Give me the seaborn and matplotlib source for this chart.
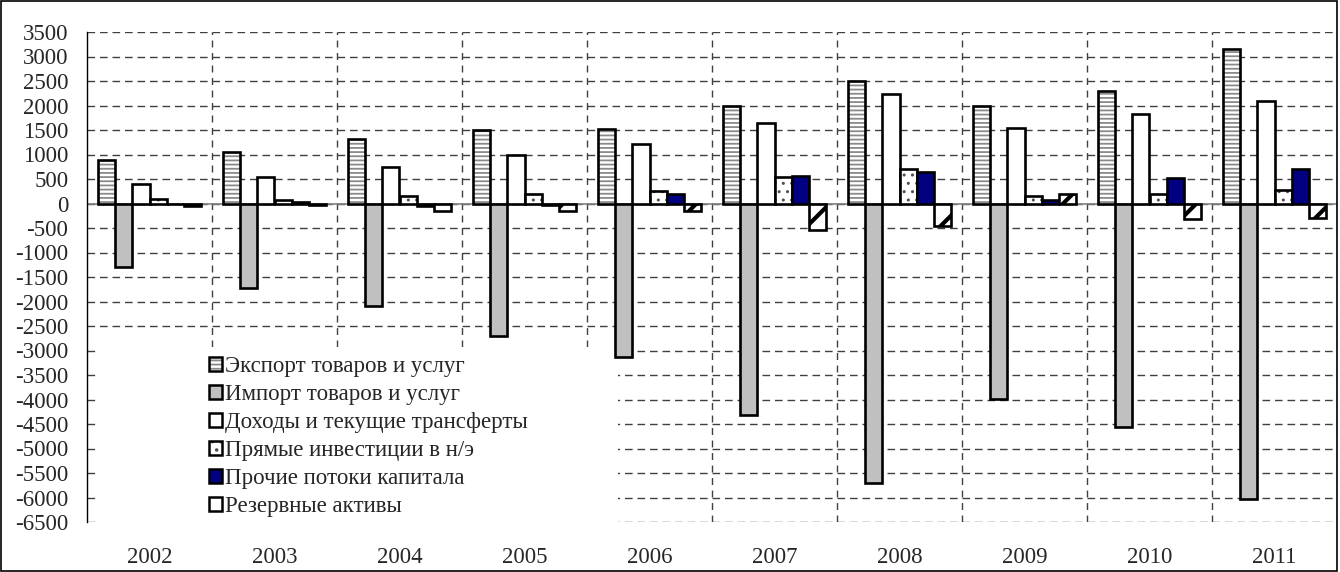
import matplotlib
matplotlib.use("Agg")
import numpy as np
import pandas as pd
import matplotlib.pyplot as plt
import seaborn as sns
from matplotlib.patches import Patch, Rectangle
from matplotlib.colors import to_rgba

years = ['2002', '2003', '2004', '2005', '2006', '2007', '2008', '2009', '2010', '2011']
series = ['Экспорт товаров и услуг', 'Импорт товаров и услуг', 'Доходы и текущие трансферты',
          'Прямые инвестиции в н/э', 'Прочие потоки капитала', 'Резервные активы']

export = [880, 1050, 1325, 1505, 1525, 1995, 2490, 1995, 2290, 3160]
imports = [-1290, -1730, -2100, -2710, -3125, -4320, -5710, -3990, -4570, -6035]
income = [395, 540, 735, 985, 1215, 1645, 2240, 1550, 1830, 2090]
fdi = [88, 68, 160, 190, 255, 540, 710, 150, 190, 275]
other = [-20, 28, -48, -30, 190, 555, 645, 68, 522, 700]
reserves = [-45, -32, -155, -150, -150, -543, -460, 200, -307, -290]

colors = ['white', '#c0c0c0', 'white', 'white', '#000080', 'white']
hatches = ['----', '', '', '..', '', '/']
hatch_colors = ['#8a8a8a', 'black', 'black', '#505050', 'black', 'black']
hatch_widths = [1.3, 1.0, 1.0, 1.0, 1.0, 3.0]

data = pd.DataFrame({
    'year': np.repeat(years, len(series)),
    'series': series * len(years),
    'value': np.column_stack([export, imports, income, fdi, other, reserves]).ravel(),
})

sns.set_style('white')
plt.rcParams['font.family'] = ['Liberation Serif', 'DejaVu Serif']
plt.rcParams['axes.unicode_minus'] = False
plt.rcParams['hatch.linewidth'] = 1.3

fig = plt.figure(figsize=(13.4, 5.72), dpi=100)
ax = fig.add_axes([87 / 1340, 50 / 572, 1250 / 1340, 490 / 572])

sns.barplot(data=data, x='year', y='value', hue='series', hue_order=series,
            palette=dict(zip(series, colors)), saturation=1, width=0.82,
            edgecolor='black', linewidth=1.9, errorbar=None, legend=False, ax=ax)


def style_patch(p, hatch, hcolor, hwidth):
    if hatch:
        p.set_hatch(hatch)
        if hasattr(p, 'set_hatchcolor'):
            p.set_hatchcolor(hcolor)
        else:
            p._hatch_color = to_rgba(hcolor)
        if hasattr(p, 'set_hatch_linewidth'):
            p.set_hatch_linewidth(hwidth)
        else:
            p._hatch_linewidth = hwidth


for cont, h, hc, hw in zip(ax.containers, hatches, hatch_colors, hatch_widths):
    for p in cont.patches:
        style_patch(p, h, hc, hw)
        p.set_zorder(3)

ax.set_ylim(-6500, 3500)
ax.set_xlim(-0.5, len(years) - 0.5)
ax.set_yticks(np.arange(-6500, 3501, 500))
ax.set_xticks(range(len(years)))
ax.set_xticklabels(years)
ax.set_xlabel('')
ax.set_ylabel('')

# grid: dashed horizontal lines at ticks, dashed vertical lines between years
ax.set_axisbelow(True)
ax.yaxis.grid(True, color='#404040', linewidth=1.0, linestyle=(0, (5.5, 3.5)))
for b in np.arange(0.5, len(years), 1.0):
    ax.axvline(b, color='#404040', linewidth=1.0, linestyle=(0, (5, 4)), zorder=0.6)
ax.axhline(0, color='#808080', linewidth=1.2, zorder=2)

for s in ['top', 'right', 'bottom']:
    ax.spines[s].set_visible(False)
ax.spines['left'].set_color('black')
ax.spines['left'].set_linewidth(1.0)
ax.spines['left'].set_zorder(4)

ax.tick_params(axis='y', direction='inout', length=9, width=1.0, color='black',
               labelsize=16.5, pad=9)
ax.tick_params(axis='x', length=0, labelsize=16.5, pad=18)

# white box behind the legend (hides grid there)
ax.add_patch(Rectangle((0.008, 0.0), 0.417, 0.358, transform=ax.transAxes,
                       facecolor='white', edgecolor='none', zorder=1))

handles = []
for lab, c, h, hc, hw in zip(series, colors, hatches, hatch_colors, hatch_widths):
    hp = Patch(facecolor=c, edgecolor='black', linewidth=1.8, label=lab)
    style_patch(hp, h, hc, min(hw, 2.0))
    handles.append(hp)
ax.legend(handles=handles, loc='lower left', bbox_to_anchor=(0.085, -0.022),
          frameon=False, fontsize=16.5, handlelength=0.55, handleheight=0.55,
          handletextpad=0.15, labelspacing=0.3, borderpad=0.2)

fig.add_artist(Rectangle((0.001, 0.002), 0.997, 0.996, transform=fig.transFigure,
                         fill=False, edgecolor='black', linewidth=1.2))

fig.savefig('out.png', dpi=100)
